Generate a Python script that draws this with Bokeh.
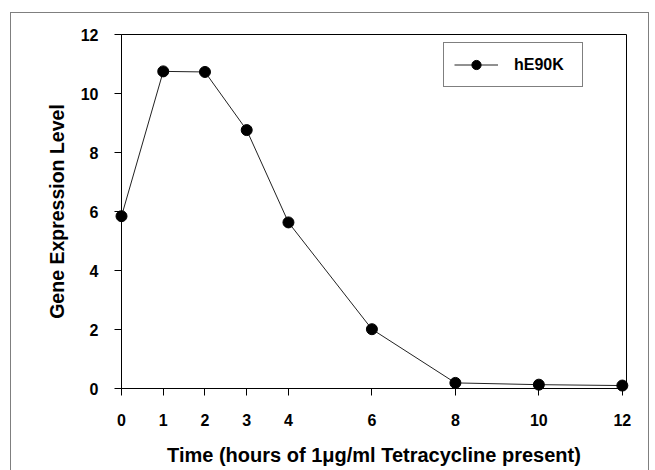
from bokeh.plotting import figure
from bokeh.models import Range1d, FixedTicker, Legend, LegendItem
from bokeh.embed import file_html
from bokeh.resources import INLINE

# ---- data ----
hours = [0, 1, 2, 3, 4, 6, 8, 10, 12]
expression = [5.84, 10.75, 10.73, 8.76, 5.63, 2.01, 0.19, 0.13, 0.10]
x_ticks = [0, 1, 2, 3, 4, 6, 8, 10, 12]
y_ticks = [0, 2, 4, 6, 8, 10, 12]
series_name = "hE90K"
x_title = "Time (hours of 1\u03bcg/ml Tetracycline present)"
y_title = "Gene Expression Level"

FONT = "Liberation Sans"

p = figure(
    width=639, height=464,
    x_range=Range1d(0, 12.1), y_range=Range1d(0, 12),
    output_backend="svg", toolbar_location=None,
    min_border_left=110, min_border_right=24,
    min_border_top=21, min_border_bottom=89,
)
p.margin = (12, 0, 0, 10)
p.styles = {
    "border-top": "1px solid #7f7f7f",
    "border-left": "1px solid #7f7f7f",
    "border-right": "1px solid #7f7f7f",
}
p.outline_line_color = "black"
p.outline_line_width = 1
p.xgrid.visible = False
p.ygrid.visible = False
p.background_fill_color = "white"
p.border_fill_color = "white"

for ax in (p.xaxis[0], p.yaxis[0]):
    ax.axis_line_color = "black"
    ax.axis_line_width = 1
    ax.major_tick_line_color = "black"
    ax.major_tick_in = 0
    ax.major_tick_out = 7
    ax.minor_tick_line_color = None
    ax.major_label_text_font = FONT
    ax.major_label_text_font_style = "bold"
    ax.major_label_text_font_size = "16px"
    ax.major_label_text_color = "black"
    ax.axis_label_text_font = FONT
    ax.axis_label_text_font_style = "bold"
    ax.axis_label_text_color = "black"

p.xaxis[0].ticker = FixedTicker(ticks=x_ticks)
p.yaxis[0].ticker = FixedTicker(ticks=y_ticks)
p.xaxis[0].axis_label = x_title
p.yaxis[0].axis_label = y_title
p.xaxis[0].axis_label_text_font_size = "20px"
p.yaxis[0].axis_label_text_font_size = "19.5px"
p.xaxis[0].major_label_standoff = 18
p.yaxis[0].major_label_standoff = 16
p.xaxis[0].axis_label_standoff = 15
p.yaxis[0].axis_label_standoff = 10

ln = p.line(hours, expression, line_color="#222222", line_width=1)
sc = p.scatter(hours, expression, size=11, marker="circle",
               fill_color="black", line_color="black")
ln.level = "overlay"
sc.level = "overlay"

legend = Legend(items=[LegendItem(label=series_name, renderers=[ln, sc])],
                location=(322, 301))
legend.border_line_color = "black"
legend.border_line_width = 1
legend.background_fill_color = "white"
legend.background_fill_alpha = 1
legend.padding = 10
legend.margin = 0
legend.spacing = 0
legend.glyph_width = 44
legend.glyph_height = 23
legend.label_standoff = 16
legend.label_width = 58
legend.label_text_font = FONT
legend.label_text_font_style = "bold"
legend.label_text_font_size = "16px"
legend.label_text_color = "black"
p.add_layout(legend)

html = file_html(p, INLINE)
html = html.replace("<body", '<body style="overflow:hidden;margin:0"', 1)
open("out.html", "w").write(html)
